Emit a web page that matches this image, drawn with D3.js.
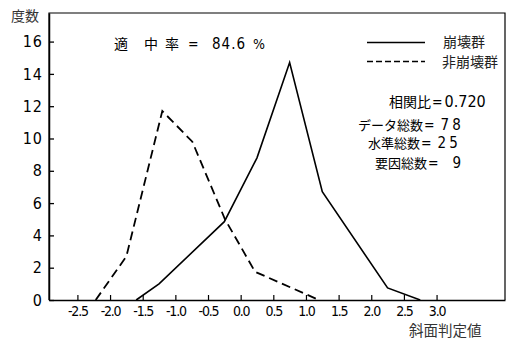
<!DOCTYPE html>
<html><head><meta charset="utf-8">
<script src="https://cdn.jsdelivr.net/npm/d3@7"></script>
<style>
body{margin:0;background:#fff;}
svg{display:block;}
.num{font-family:"DejaVu Sans Condensed","DejaVu Sans",sans-serif;}
.jp{font-family:"Noto Sans CJK JP",sans-serif;}
</style></head>
<body>
<script>
// Data
const xTicks = [-2.5,-2.0,-1.5,-1.0,-0.5,0.0,0.5,1.0,1.5,2.0,2.5,3.0];
const yTicks = [0,2,4,6,8,10,12,14,16];
const collapseX = [-1.6,-1.25,-0.25,0.25,0.75,1.25,2.25,2.75];
const collapseY = [0,1,4.85,8.8,14.7,6.7,0.75,0];
const nonCollapseX = [-2.22,-1.75,-1.2,-0.74,-0.24,0.22,1.2];
const nonCollapseY = [0,2.7,11.7,9.8,5.0,1.75,0];
const seriesNames = ["崩壊群","非崩壊群"];
const statLabels = ["相関比","データ総数","水準総数","要因総数"];
const statValues = ["0.720","78","25","9"];
const titleChars = ["適","中","率"];
const titleValue = "84.6";

const W=512,H=339;
const svg=d3.select("body").append("svg").attr("width",W).attr("height",H);
const L=49,R=505,T=13,B=300;
const x=d3.scaleLinear().domain([-2.935,4.048]).range([L,R]);
const y=d3.scaleLinear().domain([0,17.77]).range([B,T]);

// frame
svg.append("path").attr("d",`M${L},${B}V${T}H${R}V${B}`).attr("fill","none").attr("stroke","#000").attr("stroke-width",1.2);

// y axis
const ya=svg.append("g").attr("transform",`translate(${L},0)`)
  .call(d3.axisLeft(y).tickValues(yTicks).tickSizeInner(-5).tickSizeOuter(0).tickPadding(6).tickFormat(d3.format("d")));
ya.select(".domain").attr("stroke-width",1.5);
ya.selectAll("line").attr("stroke-width",1.3);
ya.selectAll("text").attr("class","num").attr("font-size",16).attr("fill","#000").attr("letter-spacing",1);

// x axis
const xa=svg.append("g").attr("transform",`translate(0,${B})`)
  .call(d3.axisBottom(x).tickValues(xTicks).tickSizeInner(-5).tickSizeOuter(0).tickPadding(6).tickFormat(d3.format(".1f")));
xa.select(".domain").attr("stroke-width",1.5);
xa.selectAll("line").attr("stroke-width",1.2);
xa.selectAll("text").attr("class","num").attr("font-size",14).attr("fill","#000").attr("letter-spacing",-1.2)
  .text(d=>d3.format(".1f")(d).replace("−","-"));

const line=d3.line().x(d=>x(d[0])).y(d=>y(d[1]));
svg.append("path").datum(collapseX.map((v,i)=>[v,collapseY[i]]))
  .attr("d",line).attr("fill","none").attr("stroke","#000").attr("stroke-width",1.6);
svg.append("path").datum(nonCollapseX.map((v,i)=>[v,nonCollapseY[i]]))
  .attr("d",line).attr("fill","none").attr("stroke","#000").attr("stroke-width",1.8).attr("stroke-dasharray","9,5");

// legend
svg.append("line").attr("x1",367).attr("x2",425).attr("y1",42.5).attr("y2",42.5).attr("stroke","#000").attr("stroke-width",1.4);
svg.append("line").attr("x1",367).attr("x2",425).attr("y1",61.5).attr("y2",61.5).attr("stroke","#000").attr("stroke-width",1.4).attr("stroke-dasharray","6,3");
svg.append("text").attr("class","jp").attr("x",443).attr("y",47).attr("font-size",14).attr("fill","#222").text(seriesNames[0]);
svg.append("text").attr("class","jp").attr("x",442).attr("y",67).attr("font-size",14).attr("fill","#222").text(seriesNames[1]);

// stats
const sx=[389,358,368,375], sy=[107,130,148,168];
const numGap=[2,6,6,14];
statLabels.forEach((s,i)=>{
  const t=svg.append("text").attr("x",sx[i]).attr("y",sy[i]).attr("fill","#000");
  t.append("tspan").attr("class","jp").attr("font-size",i===0?14:13).text(s);
  t.append("tspan").attr("class","num").attr("font-size",14).attr("dx",1).text("=");
  t.append("tspan").attr("class","num").attr("font-size",i===0?16:15).attr("dx",numGap[i]).attr("letter-spacing",i===0?0:3).text(statValues[i]);
});

// title
const tpos=[114,144,165];
titleChars.forEach((c,i)=>svg.append("text").attr("class","jp").attr("x",tpos[i]).attr("y",49).attr("font-size",14).attr("fill","#000").text(c));
svg.append("text").attr("class","num").attr("x",188).attr("y",49).attr("font-size",14).attr("fill","#000").text("=");
svg.append("text").attr("class","num").attr("x",212).attr("y",49).attr("font-size",15).attr("letter-spacing",1).attr("fill","#000").text(titleValue);
svg.append("text").attr("class","num").attr("x",253).attr("y",49).attr("font-size",14).attr("fill","#000").text("%");

// axis titles
svg.append("text").attr("class","jp").attr("x",409).attr("y",336).attr("font-size",14.5).attr("fill","#333").text("斜面判定値");
svg.append("text").attr("class","jp").attr("x",11).attr("y",21).attr("font-size",14).attr("fill","#333").text("度数");
</script>
</body></html>
